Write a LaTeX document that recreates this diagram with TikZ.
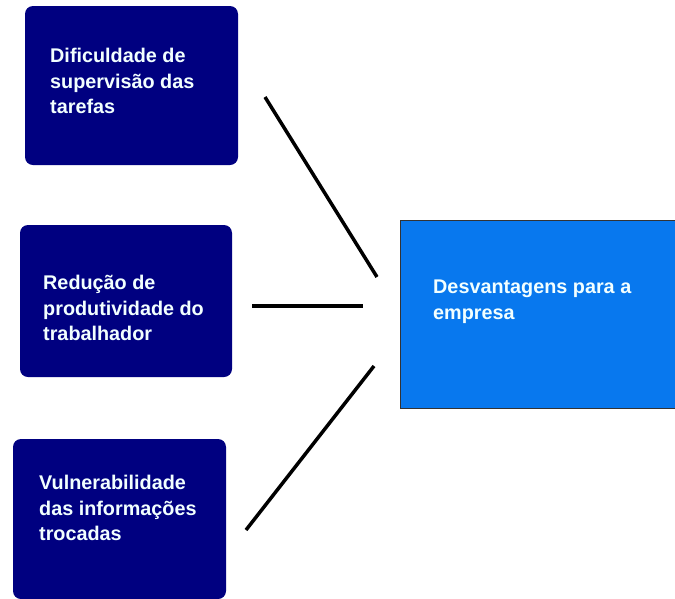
\documentclass[tikz,border=0pt]{standalone}
\usepackage{fontspec}
\setmainfont{Liberation Sans}
\usetikzlibrary{positioning}

\definecolor{navybox}{HTML}{000080}
\definecolor{bluebox}{HTML}{0878EE}
\definecolor{boxtext}{HTML}{F2FFFF}

\begin{document}
\begin{tikzpicture}[x=1pt,y=1pt]
\tikzstyle{every node}+=[inner sep=0pt]
\tikzstyle{causebox}=[fill=navybox, rounded corners=8pt]
\tikzstyle{effectbox}=[fill=bluebox, draw=black!80, line width=0.8pt]
\tikzstyle{boxlabel}=[text=boxtext, anchor=north west, align=left,
  font=\fontsize{19.8}{25.5}\selectfont\bfseries]
\tikzstyle{link}=[black, line width=3.5pt]
\useasboundingbox (0,0) rectangle (675,-598);
\clip (0,0) rectangle (675,-598);
% caixas da esquerda
\node [causebox, minimum width=213pt, minimum height=159pt] (dif) at (131.5,-85.5) {};
\node [boxlabel] (dif-txt) at (50,-48) {Dificuldade de\\supervisão das\\tarefas};
\node [causebox, minimum width=212pt, minimum height=152pt] (red) at (126,-301) {};
\node [boxlabel] (red-txt) at (43,-275) {Redução de\\produtividade do\\trabalhador};
\node [causebox, minimum width=213pt, minimum height=160pt] (vul) at (119.5,-519) {};
\node [boxlabel] (vul-txt) at (39,-475) {Vulnerabilidade\\das informações\\trocadas};
% caixa da direita
\node [effectbox, minimum width=280pt, minimum height=188pt] (des) at (540,-314) {};
\node [boxlabel] (des-txt) at (433,-280) {Desvantagens para a\\empresa};
% ligacoes
\coordinate (a1) at (265,-97);
\coordinate (b1) at (377,-277);
\coordinate (a2) at (252,-306);
\coordinate (b2) at (363,-306);
\coordinate (a3) at (246,-530);
\coordinate (b3) at (374,-366);
\draw [link] (a1) -- (b1);
\draw [link] (a2) -- (b2);
\draw [link] (a3) -- (b3);
\end{tikzpicture}
\end{document}
